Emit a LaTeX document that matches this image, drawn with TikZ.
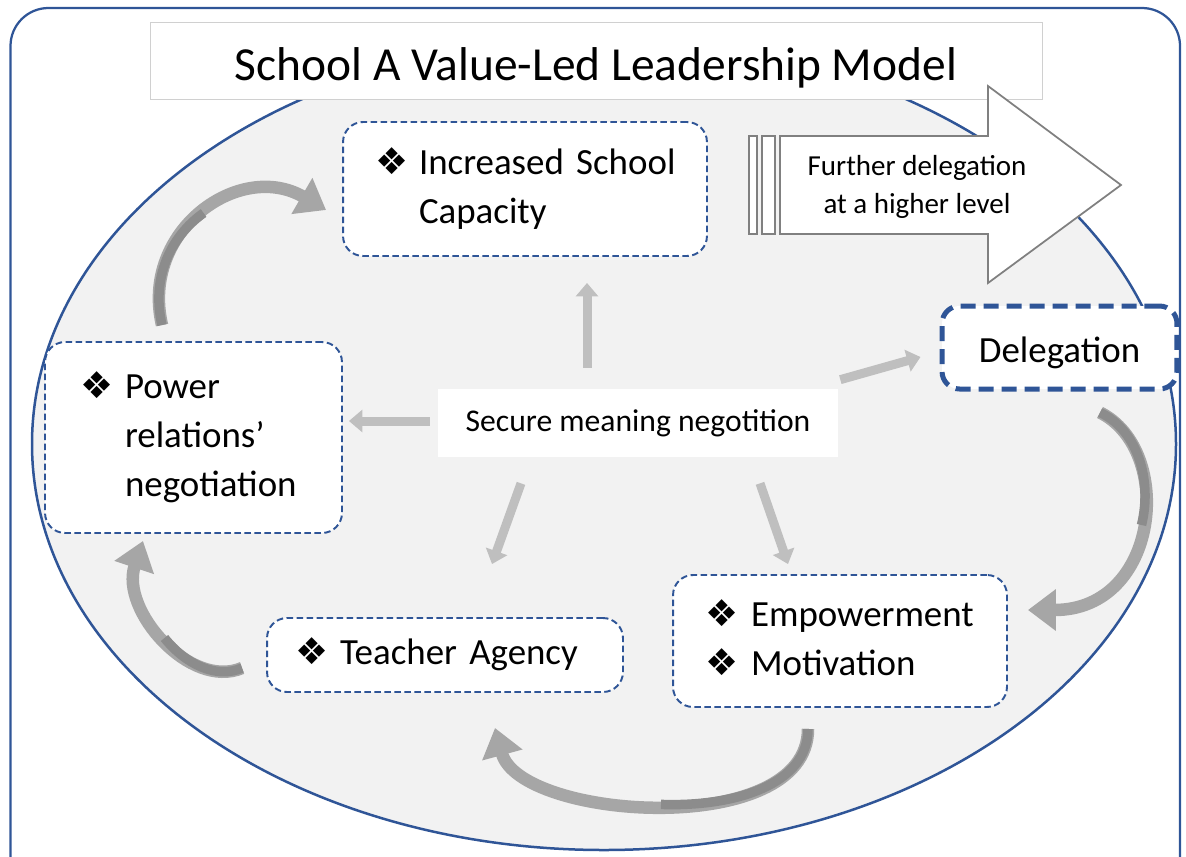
\documentclass[tikz,border=0pt]{standalone}
\usepackage{fontspec}
\setmainfont{Carlito}
\newfontfamily\dingfont{DejaVu Sans}
\usepackage{tikz}
\usetikzlibrary{arrows.meta,calc}
\definecolor{frameblue}{HTML}{2F5597}
\definecolor{lightfill}{HTML}{F2F2F2}
\definecolor{spokegray}{HTML}{BFBFBF}
\definecolor{loopgray}{HTML}{A6A6A6}
\definecolor{loopdark}{HTML}{8C8C8C}
\definecolor{arrowline}{HTML}{808080}
\definecolor{titleline}{HTML}{D0D0D0}
\newcommand{\diabul}{{\dingfont\fontsize{21}{21}\selectfont ❖}}

\begin{document}
\begin{tikzpicture}[x=0.02cm, y=-0.02cm,
		stage/.style={draw=frameblue, line width=1.1pt, dash pattern=on 0.13cm off 0.07cm, fill=white, rounded corners=0.4cm, align=left, inner ysep=0pt, font=\fontsize{21}{28}\selectfont},
		spoke/.style={draw=spokegray, line width=0.18cm, -{Triangle[length=0.27cm,width=0.44cm]}},
		cyclearrow/.style={draw=loopgray, line width=0.25cm, -{Triangle[length=0.56cm,width=0.8cm]}},
		cycleshade/.style={draw=loopdark, line width=0.19cm}]
		\useasboundingbox (0,0) rectangle (1186,856);
		\clip (0,0) rectangle (1186,856);
		\draw[frameblue, line width=0.045cm, rounded corners=0.76cm] (10.5,8) rectangle (1180,900);
		\draw[frameblue, line width=0.05cm, fill=lightfill] (604,444) ellipse [x radius=572, y radius=406];
		% boxes of the cycle
		\node[draw=titleline, fill=white, minimum width=17.84cm, minimum height=1.54cm, text height=24.2pt, text depth=2pt, font=\fontsize{27}{32}\selectfont] (title) at (596,60.5) {School A Value-Led Leadership Model};
		\node[stage, text width=6cm, inner xsep=0.64cm, minimum height=2.68cm] (capacity) at (525,189) {\begin{tabular}{@{}p{0.88cm}@{}l@{}}\diabul & Increased School\\ & Capacity\end{tabular}};
		\node[stage, text width=4.54cm, inner xsep=0.7cm, minimum height=3.82cm] (power) at (193.5,437.5) {\begin{tabular}{@{}p{0.9cm}@{}l@{}}\diabul & Power\\ & relations’\\ & negotiation\end{tabular}};
		\node[stage, text width=6cm, inner xsep=0.56cm, minimum height=1.48cm] (teacher) at (445,655) {\begin{tabular}{@{}p{0.9cm}@{}l@{}}\diabul & Teacher Agency\end{tabular}};
		\node[stage, text width=5.4cm, inner xsep=0.64cm, minimum height=2.64cm] (empower) at (840,641) {\begin{tabular}{@{}p{0.92cm}@{}l@{}}\diabul & Empowerment\\ \diabul & Motivation\end{tabular}};
		\node[draw=frameblue, line width=0.1cm, dash pattern=on 0.3cm off 0.16cm, fill=white, rounded corners=0.35cm, minimum width=4.7cm, minimum height=1.66cm, text height=18pt, text depth=1.5pt, font=\fontsize{21}{28}\selectfont] (delegation) at (1059.5,347.5) {Delegation};
		\node[fill=white, minimum width=8cm, minimum height=1.36cm, text height=13pt, text depth=3.9pt, font=\fontsize{18}{22}\selectfont] (secure) at (638,423) {Secure meaning negotition};
		% striped arrow
		\draw[arrowline, line width=0.035cm, fill=white] (780,136) -- (988,136) -- (988,86) -- (1121,185) -- (988,283) -- (988,234) -- (780,234) -- cycle;
		\draw[arrowline, line width=0.035cm, fill=white] (749,136) rectangle (757,234);
		\draw[arrowline, line width=0.035cm, fill=white] (762,136) rectangle (775,234);
		\node[align=center, font=\fontsize{16.5}{22}\selectfont] (further) at (917,187) {Further delegation\\at a higher level};
		% curved arrows
		\draw[cyclearrow] ($(power.north)+(-31.5,-16)$) .. controls (140,230) and (240,160) .. ($(capacity.west)+(-16,21)$);
		\draw[cycleshade] ($(power.north)+(-31.5,-16)$) .. controls (151,278) and (170.5,236.5) .. (203.6,213);
		\draw[cyclearrow] ($(teacher.west)+(-24,13)$) .. controls (190,690) and (120,610) .. ($(power.south)+(-50.5,7)$);
		\draw[cycleshade] ($(teacher.west)+(-24,13)$) .. controls (216.5,679) and (185.75,664.5) .. (164.5,638);
		\draw[cyclearrow] ($(empower.south)+(-32,21)$) .. controls (808,840) and (520,820) .. ($(teacher.south)+(50,35)$);
		\draw[cycleshade] ($(empower.south)+(-32,21)$) .. controls (808,784) and (736,807) .. (661,804.4);
		\draw[cyclearrow] ($(delegation.south)+(40.5,21)$) .. controls (1175,450) and (1160,610) .. ($(empower.east)+(20,-31)$);
		\draw[cycleshade] ($(delegation.south)+(40.5,21)$) .. controls (1137.5,430) and (1152.5,480) .. (1141.5,525);
		% spokes
		\draw[spoke] ($(secure.north)+(-51,-21)$) -- ($(capacity.south)+(62,26)$);
		\draw[spoke] ($(secure.west)+(-8,-2)$) -- ($(power.east)+(6,-16.5)$);
		\draw[spoke] ($(secure.north east)+(2,-9)$) -- ($(delegation.west)+(-19,9.5)$);
		\draw[spoke] ($(secure.south)+(-117,26)$) -- ($(teacher.north)+(47,-53)$);
		\draw[spoke] ($(secure.south)+(122,26)$) -- ($(empower.north)+(-52,-10)$);
\end{tikzpicture}
\end{document}
